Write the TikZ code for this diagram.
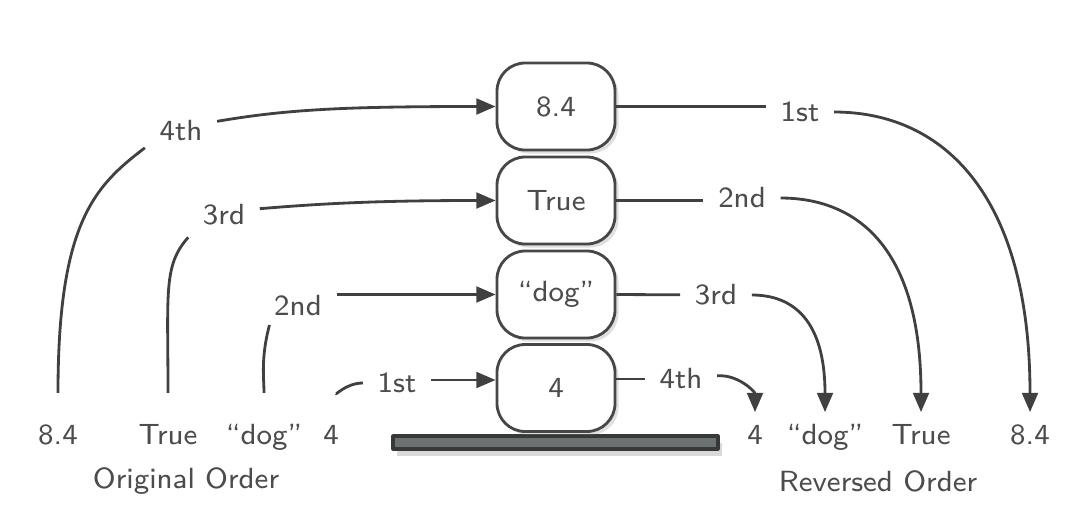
\documentclass[tikz,border=0pt]{standalone}
\usepackage{tikz}
\usetikzlibrary{arrows.meta,shadows}
\definecolor{basegray}{RGB}{108,114,114}

\begin{document}
\begin{tikzpicture}[>={Triangle[length=5.5pt,width=4.5pt]},line join=round,
  font=\sffamily\fontsize{8.3}{10}\selectfont,
  slot/.style={draw=black!72,line width=0.8pt,fill=white,rounded corners=8pt,
    minimum width=1.18cm,minimum height=0.87cm,text=black!70,
    drop shadow={opacity=0.25,shadow xshift=1pt,shadow yshift=-1pt}},
  val/.style={text=black!70,text height=1.6ex,text depth=0.4ex,inner sep=2pt},
  tag/.style={text=black!70,inner sep=4pt},
  link/.style={draw=black!75,line width=0.8pt}]
  \useasboundingbox (0,0) rectangle (10.690,5.160);
  % base of the stack
  \filldraw[draw=black!78,fill=basegray,line width=0.9pt,
    drop shadow={opacity=0.3,shadow xshift=1pt,shadow yshift=-2pt}]
    (3.930,0.670) rectangle (7.180,0.800);
  % stack slots
  \node[slot] (S1) at (5.560,4.095) {8.4};
  \node[slot] (S2) at (5.560,3.155) {True};
  \node[slot] (S3) at (5.560,2.215) {``dog''};
  \node[slot] (S4) at (5.560,1.280) {4};
  % original order
  \node[val] (O1) at (0.580,0.810) {8.4};
  \node[val] (O2) at (1.680,0.810) {True};
  \node[val] (O3) at (2.640,0.810) {``dog''};
  \node[val] (O4) at (3.310,0.810) {4};
  \node[text=black!70] (OT) at (1.860,0.350) {Original Order};
  % reversed order
  \node[val] (R4) at (7.550,0.810) {4};
  \node[val] (R3) at (8.250,0.810) {``dog''};
  \node[val] (R2) at (9.210,0.810) {True};
  \node[val] (R1) at (10.300,0.810) {8.4};
  \node[text=black!70] (RT) at (8.780,0.350) {Reversed Order};
  % push labels
  \node[tag] (P4) at (1.810,3.850) {4th};
  \node[tag] (P3) at (2.240,3.010) {3rd};
  \node[tag] (P2) at (2.980,2.100) {2nd};
  \node[tag] (P1) at (3.970,1.330) {1st};
  % pop labels
  \node[tag] (Q1) at (8.000,4.040) {1st};
  \node[tag] (Q2) at (7.420,3.180) {2nd};
  \node[tag] (Q3) at (7.160,2.210) {3rd};
  \node[tag] (Q4) at (6.810,1.370) {4th};
  % pushing
  \draw[link,shorten <=5.5pt] (O1.north) .. controls +(0,1.9) and +(-0.5,-0.38) .. (P4.205);
  \draw[link,->] (P4.15) .. controls +(0.7,0.12) and +(-1.5,0) .. (S1.west);
  \draw[link,shorten <=5.5pt] (O2.north) .. controls +(0,1.2) and +(-0.25,-0.28) .. (P3.212);
  \draw[link,->] (P3.10) .. controls +(0.6,0.05) and +(-1.2,0) .. (S2.west);
  \draw[link,shorten <=5.5pt] (O3.north) to[out=90,in=-105] ([shift={(0.1,0.06)}]P2.south west);
  \draw[link,->] (P2.east |- S3.west) -- (S3.west);
  \draw[link,shorten <=5.5pt] (O4.north) to[out=75,in=180] (P1.west);
  \draw[link,->] (P1.east |- 0,1.360) -- (S4.west |- 0,1.360);
  % popping
  \draw[link] (S1.east) -- (S1.east -| Q1.west);
  \draw[link,->] (Q1) .. controls +(1.45,0) and +(0,2.15) .. (R1.north);
  \draw[link] (S2.east) -- (S2.east -| Q2.west);
  \draw[link,->] (Q2) .. controls +(1.13,0) and +(0,1.67) .. (R2.north);
  \draw[link] (S3.east) -- (Q3);
  \draw[link,->] (Q3) .. controls +(0.77,0) and +(0,0.92) .. (R3.north);
  \draw[link] (S4.east |- Q4) -- (Q4);
  \draw[link,->] (Q4) to[out=5,in=90] (R4.north);
\end{tikzpicture}
\end{document}
